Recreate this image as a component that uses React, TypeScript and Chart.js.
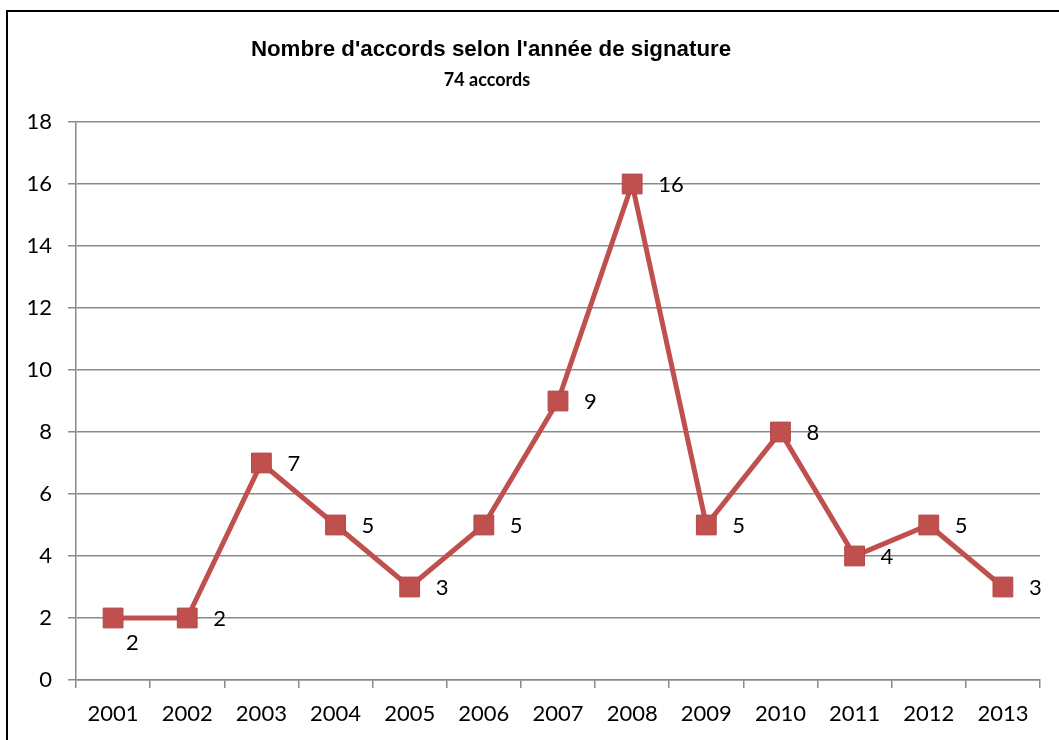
import React, { useEffect, useRef } from "react";
import { Chart, registerables } from "chart.js";

Chart.register(...registerables);

const years = ["2001", "2002", "2003", "2004", "2005", "2006", "2007", "2008", "2009", "2010", "2011", "2012", "2013"];
const accords = [2, 2, 7, 5, 3, 5, 9, 16, 5, 8, 4, 5, 3];
const labelPlacement = ["below", "right", "right", "right", "right", "right", "right", "right", "right", "right", "right", "right", "right"];
const yTicksMax = 18;
const yTicksStep = 2;
const titleText = "Nombre d'accords selon l'année de signature";
const subtitleText = "74 accords";

const FONT = "Lato, 'Open Sans', sans-serif";
const RED = "#C0504D";
const GRID = "#8a8a8a";

export default function App() {
  const ref = useRef<HTMLCanvasElement>(null);
  useEffect(() => {
    if (!ref.current) return;
    const labelsPlugin = {
      id: "pointLabels",
      afterDatasetsDraw(chart: any) {
        const ctx = chart.ctx;
        const meta = chart.getDatasetMeta(0);
        ctx.save();
        ctx.font = `22px ${FONT}`;
        ctx.fillStyle = "#000";
        ctx.textBaseline = "middle";
        ctx.textAlign = "left";
        meta.data.forEach((pt: any, i: number) => {
          const v = String(accords[i]);
          if (labelPlacement[i] === "below") {
            ctx.fillText(v, pt.x + 13, pt.y + 25);
          } else {
            ctx.fillText(v, pt.x + 26, pt.y + 1);
          }
        });
        ctx.restore();
      },
    };
    const titlePlugin = {
      id: "titles",
      afterDraw(chart: any) {
        const ctx = chart.ctx;
        ctx.save();
        ctx.fillStyle = "#000";
        ctx.textAlign = "center";
        ctx.textBaseline = "alphabetic";
        ctx.font = `bold 22.3px 'Liberation Sans', Arial, sans-serif`;
        ctx.fillText(titleText, 491, 56);
        ctx.font = `bold 18px ${FONT}`;
        ctx.fillText(subtitleText, 487, 86);
        ctx.restore();
      },
    };
    const chart = new Chart(ref.current, {
      type: "line",
      data: {
        labels: years,
        datasets: [
          {
            data: accords,
            borderColor: RED,
            backgroundColor: RED,
            borderWidth: 5,
            pointStyle: "rect",
            pointRadius: 14,
            pointBackgroundColor: RED,
            pointBorderColor: "#B5474A",
            pointBorderWidth: 1,
            tension: 0,
          },
        ],
      },
      options: {
        responsive: false,
        animation: false,
        layout: { padding: { left: 0, right: 19, top: 122, bottom: 0 } },
        plugins: { legend: { display: false }, title: { display: false }, tooltip: { enabled: false } },
        scales: {
          x: {
            offset: true,
            grid: { offset: true, drawOnChartArea: false, drawTicks: true, tickLength: 8, color: GRID, lineWidth: 1.5 },
            border: { color: GRID, width: 1.5 },
            ticks: { color: "#000", font: { family: FONT, size: 22 }, padding: 13, maxRotation: 0, autoSkip: false },
            afterFit: (s: any) => {
              s.height = 60;
            },
          },
          y: {
            min: 0,
            max: yTicksMax,
            grid: { color: GRID, lineWidth: 1.5, tickLength: 8 },
            border: { color: GRID, width: 1.5 },
            ticks: { stepSize: yTicksStep, color: "#000", font: { family: FONT, size: 22 }, padding: 16 },
            afterFit: (s: any) => {
              s.width = 76;
            },
          },
        },
      },
      plugins: [labelsPlugin, titlePlugin],
    });
    return () => chart.destroy();
  }, []);
  return (
    <div style={{ position: "fixed", left: 0, top: 0, width: 1059, height: 740, overflow: "hidden", background: "#fff" }}>
      <div style={{ position: "absolute", left: 6, top: 10, width: 1200, height: 900, border: "2px solid #000" }} />
      <canvas ref={ref} width={1059} height={740} style={{ position: "absolute", left: 0, top: 0 }} />
    </div>
  );
}
